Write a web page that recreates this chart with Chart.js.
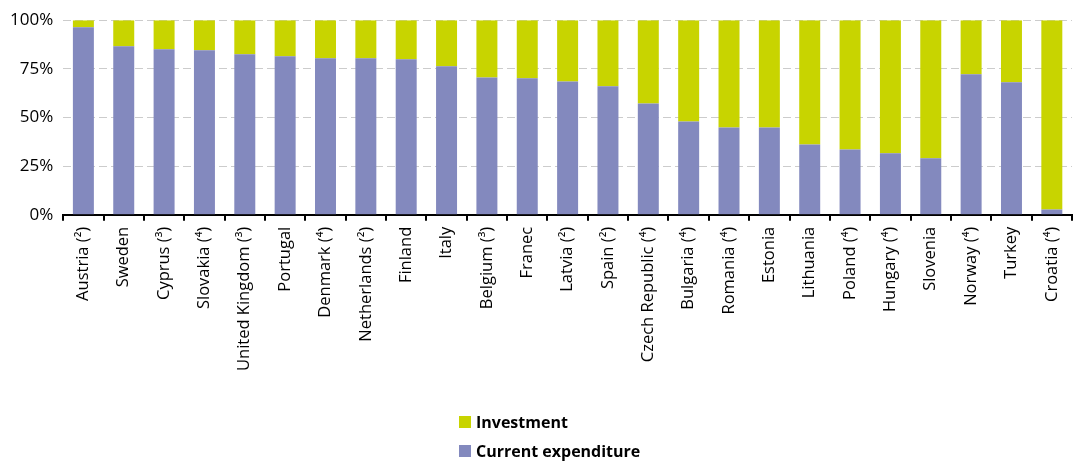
<!DOCTYPE html>
<html>
<head>
<meta charset="utf-8">
<script src="https://cdn.jsdelivr.net/npm/chart.js@4/dist/chart.umd.min.js"></script>
<style>
  html, body { margin: 0; padding: 0; background: #fff; overflow: hidden; }
  #wrap { position: relative; width: 1079px; height: 461px; }
  #legend { position: absolute; left: 459px; top: 407px; font-family: "Open Sans", sans-serif; font-weight: 700; font-size: 16px; line-height: 1; color: #000; }
  #legend div { display: flex; align-items: center; height: 29px; }
  #legend span.box { display: inline-block; width: 12px; height: 12px; margin-right: 5px; }
</style>
</head>
<body>
<div id="wrap">
  <canvas id="chart" width="1079" height="461"></canvas>
  <div id="legend"></div>
</div>
<script>
const countries = [
  'Austria (²)', 'Sweden', 'Cyprus (³)', 'Slovakia (⁴)', 'United Kingdom (³)', 'Portugal',
  'Denmark (⁴)', 'Netherlands (²)', 'Finland', 'Italy', 'Belgium (³)', 'Franec',
  'Latvia (²)', 'Spain (²)', 'Czech Republic (⁴)', 'Bulgaria (⁴)', 'Romania (⁴)', 'Estonia',
  'Lithuania', 'Poland (⁴)', 'Hungary (⁴)', 'Slovenia', 'Norway (⁴)', 'Turkey', 'Croatia (⁴)'
];

// shares in %, per country
const currentExpenditure = [
  96.4, 86.6, 85.1, 84.6, 82.5, 81.5, 80.4, 80.4, 79.9, 76.3, 70.6, 70.1,
  68.5, 66.0, 57.2, 47.9, 44.8, 44.8, 36.1, 33.6, 31.6, 29.0, 72.2, 68.1, 2.7
];
const investment = [
  3.6, 13.4, 14.9, 15.4, 17.5, 18.5, 19.6, 19.6, 20.1, 23.7, 29.4, 29.9,
  31.5, 34.0, 42.8, 52.1, 55.2, 55.2, 63.9, 66.4, 68.4, 71.0, 27.8, 31.9, 97.3
];

const yTicks = [0, 25, 50, 75, 100];

const font = '"Open Sans", sans-serif';

const chart = new Chart(document.getElementById('chart'), {
  type: 'bar',
  data: {
    labels: countries,
    datasets: [
      {
        label: 'Current expenditure',
        backgroundColor: '#8389be',
        data: currentExpenditure,
      },
      {
        label: 'Investment',
        backgroundColor: '#c8d400',
        data: investment,
      }
    ]
  },
  options: {
    responsive: false,
    animation: false,
    layout: { padding: { top: 10, right: 7, bottom: 84, left: 0 } },
    datasets: { bar: { barPercentage: 0.52, categoryPercentage: 1 } },
    plugins: {
      legend: { display: false },
      tooltip: { enabled: false },
    },
    scales: {
      x: {
        stacked: true,
        border: { display: true, color: '#000', width: 2 },
        grid: { display: true, drawOnChartArea: false, color: '#000', lineWidth: 2, tickLength: 6, offset: true },
        ticks: {
          minRotation: 90, maxRotation: 90, autoSkip: false,
          color: '#000', padding: 6,
          font: { family: font, size: 16.5 },
        },
      },
      y: {
        stacked: true,
        min: 0, max: 100,
        afterBuildTicks: (axis) => { axis.ticks = yTicks.map(v => ({ value: v })); },
        border: { display: false, dash: [8, 4] },
        grid: { color: '#cccccc', lineWidth: 1, drawTicks: false },
        ticks: {
          color: '#000', padding: 10,
          font: { family: font, size: 17 },
          callback: (v) => v + '%',
        },
      }
    }
  }
});

// two-row legend, investment listed first
const legend = document.getElementById('legend');
chart.data.datasets.slice().reverse().forEach((ds) => {
  const row = document.createElement('div');
  const box = document.createElement('span');
  box.className = 'box';
  box.style.background = ds.backgroundColor;
  row.appendChild(box);
  row.appendChild(document.createTextNode(ds.label));
  legend.appendChild(row);
});
</script>
</body>
</html>
